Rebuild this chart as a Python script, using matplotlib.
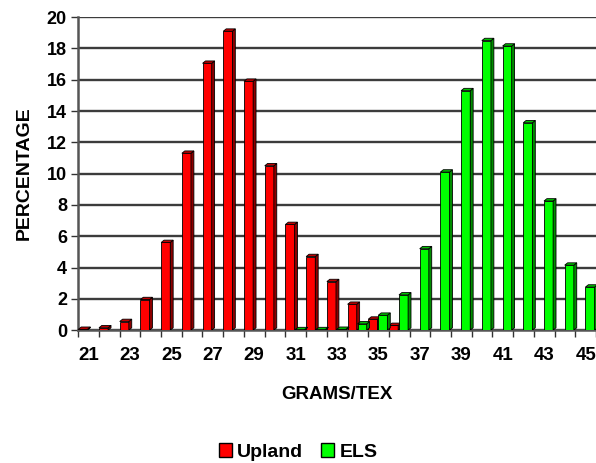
import numpy as np
import matplotlib
matplotlib.use('Agg')
import matplotlib.pyplot as plt
from matplotlib.patches import Polygon, Patch

plt.rcParams['font.family'] = ['Liberation Sans', 'DejaVu Sans']
plt.rcParams['font.weight'] = 'bold'

grams_tex = list(range(21, 46))
upland = [0.05, 0.15, 0.55, 1.95, 5.6, 11.3, 17.05, 19.1, 15.9, 10.5, 6.75, 4.7,
          3.1, 1.65, 0.7, 0.3, 0, 0, 0, 0, 0, 0, 0, 0, 0]
els = [0, 0, 0, 0, 0, 0, 0, 0, 0, 0, 0.03, 0.03, 0.05, 0.4, 0.95, 2.25, 5.2,
       10.1, 15.3, 18.5, 18.15, 13.25, 8.25, 4.15, 2.75]

fig = plt.figure(figsize=(5.96, 4.63), dpi=100)
ax = fig.add_axes([0.131, 0.287, 0.869, 0.676])

x = np.arange(len(grams_tex))
w = 0.44
dx, dy = 0.14, 0.15

def bars3d(xs, vals, front, side, top):
    rects = ax.bar(xs, vals, width=w, color=front, edgecolor='black', linewidth=0.6, zorder=3)
    for r in rects:
        x0 = r.get_x()
        x1 = x0 + r.get_width()
        h = r.get_height()
        if h <= 0:
            continue
        ax.add_patch(Polygon([(x1, 0), (x1 + dx, dy), (x1 + dx, h + dy), (x1, h)],
                             closed=True, facecolor=side, edgecolor='black', linewidth=0.6, zorder=3))
        ax.add_patch(Polygon([(x0, h), (x0 + dx, h + dy), (x1 + dx, h + dy), (x1, h)],
                             closed=True, facecolor=top, edgecolor='black', linewidth=0.6, zorder=3))

bars3d(x - 0.27, upland, '#ff0000', '#8c0000', '#c00000')
bars3d(x + 0.21, els, '#00ff00', '#008c00', '#00c000')

ax.set_xlim(-0.5, len(grams_tex) - 0.5)
ax.set_ylim(0, 20)
ax.set_yticks(range(0, 21, 2))
ax.yaxis.grid(True, color='#3c3c3c', linewidth=1.7)
ax.set_axisbelow(True)

ax.set_xticks(x[::2])
ax.set_xticklabels([str(g) for g in grams_tex[::2]])
ax.set_xticks(np.arange(-0.5, len(grams_tex), 1), minor=True)
ax.tick_params(axis='x', which='major', length=0, pad=12, labelsize=13.5)
ax.tick_params(axis='x', which='minor', length=5, width=1, color='#333333')
ax.tick_params(axis='y', length=5, width=1, color='#333333', labelsize=13, pad=3)

for s in ['top', 'right']:
    ax.spines[s].set_visible(False)
ax.spines['left'].set_color('#555555')
ax.spines['left'].set_linewidth(1.8)
ax.spines['bottom'].set_color('#555555')
ax.spines['bottom'].set_linewidth(1.8)

ax.set_xlabel('GRAMS/TEX', fontsize=13.5, fontweight='bold', labelpad=16)
ax.set_ylabel('PERCENTAGE', fontsize=14, fontweight='bold', labelpad=10)

handles = [Patch(facecolor='#ff0000', edgecolor='black', label='Upland'),
           Patch(facecolor='#00ff00', edgecolor='black', label='ELS')]
fig.legend(handles=handles, loc='center', bbox_to_anchor=(0.5, 0.024), ncol=2, frameon=False,
           handlelength=0.7, handleheight=0.7, handletextpad=0.25, columnspacing=0.9,
           prop={'size': 14, 'weight': 'bold'})

fig.savefig('out.png', dpi=100)
